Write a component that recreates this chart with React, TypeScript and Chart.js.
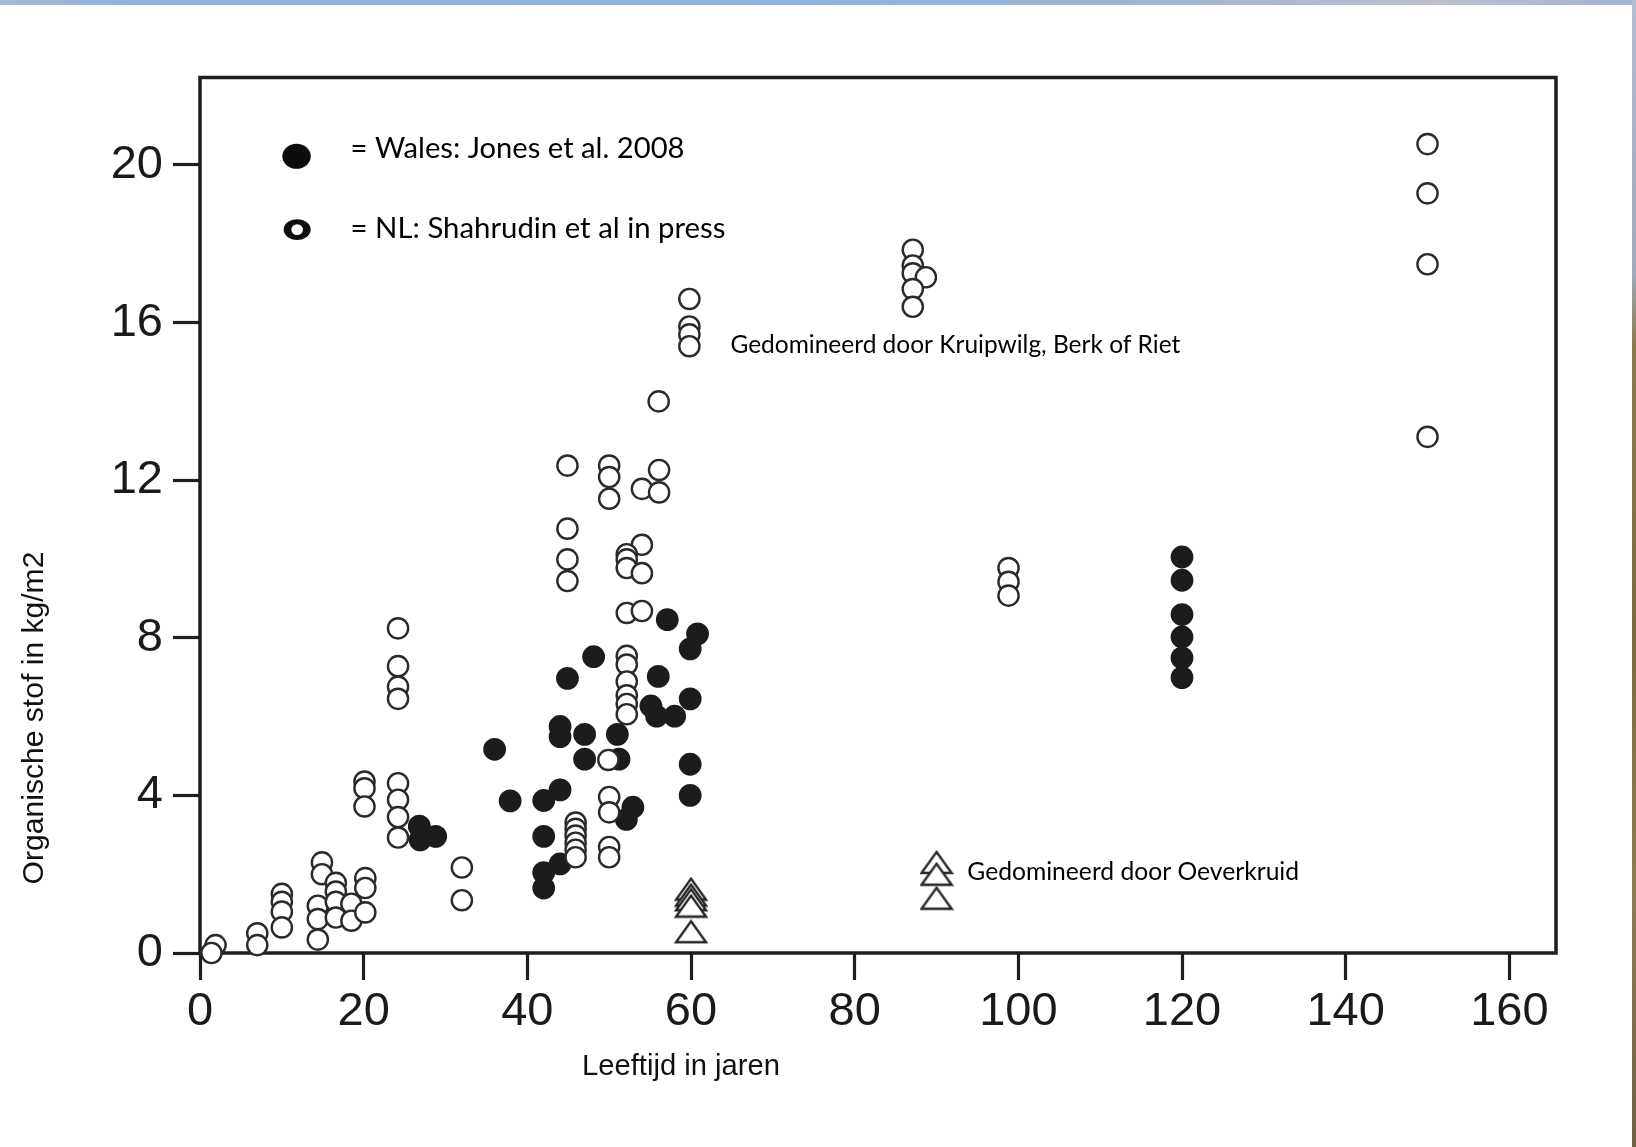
import React, { useEffect, useRef } from 'react';
import { Chart, registerables } from 'chart.js';

Chart.register(...registerables);

// ---------- data ----------
// NL: Shahrudin et al in press (open circles)
const nlAge = [
  1.9, 1.4,
  7.0, 7.0,
  10.0, 10.0, 10.0, 10.0,
  14.9, 14.9,
  14.4, 14.4, 14.4,
  16.6, 16.6, 16.6, 16.6,
  18.5, 18.5,
  20.2, 20.2, 20.2,
  20.1, 20.1, 20.1,
  24.2, 24.2, 24.2, 24.2,
  24.2, 24.2, 24.2, 24.2,
  32.0, 32.0,
  44.9, 44.9, 44.9, 44.9,
  45.9, 45.9, 45.9, 45.9, 45.9, 45.9,
  50.0, 50.0, 50.0,
  50.0, 50.0, 50.0, 50.0,
  49.9,
  54.0, 56.1, 56.1,
  54.0, 52.15, 52.15, 52.15, 54.0,
  52.15, 54.0,
  52.15, 52.15, 52.15, 52.15, 52.15, 52.15,
  59.8, 59.8, 59.8, 59.8,
  56.05,
  87.1, 87.1, 87.1, 88.7, 87.1, 87.1,
  98.8, 98.8, 98.8,
  150, 150, 150, 150,
];
const nlOM = [
  0.2, 0.0,
  0.5, 0.2,
  1.5, 1.3, 1.05, 0.65,
  2.3, 2.0,
  1.2, 0.86, 0.34,
  1.78, 1.56, 1.3, 0.9,
  1.25, 0.82,
  1.9, 1.65, 1.03,
  4.35, 4.18, 3.72,
  8.24, 7.28, 6.76, 6.45,
  4.31, 3.89, 3.45, 2.93,
  2.17, 1.34,
  12.37, 10.77, 9.99, 9.44,
  3.31, 3.15, 2.98, 2.8, 2.62, 2.43,
  12.37, 12.08, 11.53,
  3.96, 3.57, 2.69, 2.43,
  4.9,
  11.78, 12.26, 11.69,
  10.36, 10.12, 9.99, 9.77, 9.64,
  8.63, 8.68,
  7.54, 7.32, 6.89, 6.54, 6.32, 6.06,
  16.6, 15.9, 15.7, 15.4,
  14.0,
  17.85, 17.45, 17.25, 17.15, 16.85, 16.4,
  9.77, 9.42, 9.07,
  20.53, 19.28, 17.48, 13.1,
];

// Wales: Jones et al. 2008 (filled circles)
const walesAge = [
  26.8, 26.9, 28.8,
  36.0, 37.9,
  42.0, 44.0, 42.0, 42.0, 44.0, 42.0,
  44.0, 44.0, 44.9,
  47.0, 47.0, 48.1,
  51.0, 51.2, 52.9, 52.1,
  56.0, 55.1, 55.8, 58.0, 57.1,
  59.9, 60.8, 59.9, 59.9, 59.9,
  120, 120, 120, 120, 120, 120,
];
const walesOM = [
  3.22, 2.87, 2.96,
  5.17, 3.86,
  3.87, 4.14, 2.96, 2.04, 2.26, 1.65,
  5.75, 5.49, 6.97,
  5.55, 4.92, 7.52,
  5.55, 4.92, 3.7, 3.39,
  7.02, 6.27, 6.01, 6.01, 8.46,
  7.72, 8.1, 6.45, 4.79, 4.0,
  10.05, 9.46, 8.59, 8.02, 7.49, 6.99,
];

// Dominated by Oeverkruid (open triangles)
const oeverAge = [60, 60, 60, 60, 60, 90, 90, 90];
const oeverOM = [1.62, 1.47, 1.35, 1.19, 0.54, 2.3, 2.0, 1.39];

const xTickValues = [0, 20, 40, 60, 80, 100, 120, 140, 160];
const yTickValues = [0, 4, 8, 12, 16, 20];

const xAxisTitle = 'Leeftijd in jaren';
const yAxisTitle = 'Organische stof in kg/m2';
const legendWales = '= Wales: Jones et al. 2008';
const legendNL = '= NL: Shahrudin et al in press';
const noteKruipwilg = 'Gedomineerd door Kruipwilg, Berk of Riet';
const noteOever = 'Gedomineerd door Oeverkruid';

// ---------- layout ----------
const W = 1636;
const H = 1147;
const ARIAL = "'Liberation Sans', Arial, Helvetica, sans-serif";
const CALIBRI = "Lato, 'Open Sans', 'Noto Sans', sans-serif";

const toPts = (xs: number[], ys: number[]) => xs.map((x, i) => ({ x, y: ys[i] }));

function makeTriangle(): HTMLCanvasElement {
  const c = document.createElement('canvas');
  c.width = 34;
  c.height = 25;
  const g = c.getContext('2d') as CanvasRenderingContext2D;
  g.lineWidth = 2.3;
  g.strokeStyle = '#262626';
  g.fillStyle = '#ffffff';
  g.beginPath();
  g.moveTo(17, 2);
  g.lineTo(32, 23);
  g.lineTo(2, 23);
  g.closePath();
  g.fill();
  g.stroke();
  return c;
}

function drawFitted(
  ctx: CanvasRenderingContext2D,
  text: string,
  family: string,
  targetW: number,
  x: number,
  y: number,
  align: CanvasTextAlign,
  color: string,
  rotate = 0,
) {
  ctx.save();
  ctx.font = `100px ${family}`;
  const w = ctx.measureText(text).width;
  const size = (100 * targetW) / w;
  ctx.font = `${size}px ${family}`;
  ctx.textAlign = align;
  ctx.textBaseline = 'alphabetic';
  ctx.fillStyle = color;
  ctx.translate(x, y);
  if (rotate) ctx.rotate(rotate);
  ctx.fillText(text, 0, 0);
  ctx.restore();
}

const overlayPlugin = {
  id: 'overlay',
  beforeDatasetsDraw(chart: any) {
    const { ctx, chartArea: a } = chart;
    ctx.save();
    ctx.strokeStyle = '#1e1e1e';
    ctx.lineWidth = 3.5;
    ctx.strokeRect(a.left, a.top, a.right - a.left, a.bottom - a.top);
    ctx.restore();
  },
  afterDatasetsDraw(chart: any) {
    const { ctx } = chart;
    const xs = chart.scales.x;
    const ys = chart.scales.y;

    // axis titles
    drawFitted(ctx, yAxisTitle, ARIAL, 333, 43, 718, 'center', '#111111', -Math.PI / 2);
    drawFitted(ctx, xAxisTitle, ARIAL, 198, 681, 1075, 'center', '#111111');

    // legend markers (positioned in data units)
    const mx = xs.getPixelForValue(11.8);
    const m1y = ys.getPixelForValue(20.22);
    const m2y = ys.getPixelForValue(18.36);
    ctx.save();
    ctx.fillStyle = '#0d0d0d';
    ctx.beginPath();
    ctx.ellipse(mx, m1y, 14.2, 12.5, 0, 0, Math.PI * 2);
    ctx.fill();
    ctx.beginPath();
    ctx.ellipse(mx + 0.6, m2y, 13.5, 10.4, 0, 0, Math.PI * 2);
    ctx.fill();
    ctx.fillStyle = '#ffffff';
    ctx.beginPath();
    ctx.ellipse(mx + 0.6, m2y, 5.8, 5.4, 0, 0, Math.PI * 2);
    ctx.fill();
    ctx.restore();

    // legend texts and notes
    drawFitted(ctx, legendWales, CALIBRI, 334, 350.6, 158, 'left', '#000000');
    drawFitted(ctx, legendNL, CALIBRI, 375, 350.6, 238.3, 'left', '#000000');
    drawFitted(ctx, noteKruipwilg, CALIBRI, 450, 730.4, 352.5, 'left', '#000000');
    drawFitted(ctx, noteOever, CALIBRI, 332, 967.3, 880, 'left', '#000000');
  },
};

export default function App() {
  const ref = useRef<HTMLCanvasElement | null>(null);

  useEffect(() => {
    const canvas = ref.current;
    if (!canvas) return;
    const tri = makeTriangle();

    const tickFont = { family: ARIAL, size: 47 };
    const gridOpts = {
      display: true,
      drawOnChartArea: false,
      drawTicks: true,
      tickLength: 27,
      tickWidth: 3.2,
      tickColor: '#1e1e1e',
    };

    const chart = new Chart(canvas, {
      type: 'scatter',
      data: {
        datasets: [
          {
            label: 'NL: Shahrudin et al in press',
            data: toPts(nlAge, nlOM),
            pointStyle: 'circle',
            pointRadius: 10.1,
            pointHoverRadius: 10.1,
            pointBackgroundColor: '#ffffff',
            pointBorderColor: '#2a2a2a',
            pointBorderWidth: 2.4,
            clip: false,
          } as any,
          {
            label: 'Wales: Jones et al. 2008',
            data: toPts(walesAge, walesOM),
            pointStyle: 'circle',
            pointRadius: 10.3,
            pointHoverRadius: 10.3,
            pointBackgroundColor: '#1c1c1c',
            pointBorderColor: '#1c1c1c',
            pointBorderWidth: 2.2,
            clip: false,
          } as any,
          {
            label: 'Gedomineerd door Oeverkruid',
            data: toPts(oeverAge, oeverOM),
            pointStyle: tri,
            pointRadius: 12,
            pointHoverRadius: 12,
            clip: false,
          } as any,
        ],
      },
      options: {
        responsive: false,
        animation: false,
        devicePixelRatio: 1,
        events: [],
        layout: { padding: { top: 77.5, right: 80, left: 0, bottom: 0 } },
        plugins: {
          legend: { display: false },
          tooltip: { enabled: false },
          title: { display: false },
        },
        scales: {
          x: {
            type: 'linear',
            min: 0,
            max: 165.7,
            afterFit: (s: any) => {
              s.height = H - 953;
            },
            afterBuildTicks: (s: any) => {
              s.ticks = xTickValues.map((v) => ({ value: v }));
            },
            ticks: {
              font: tickFont,
              color: '#1a1a1a',
              padding: 4,
              maxRotation: 0,
              autoSkip: false,
              includeBounds: false,
            },
            grid: gridOpts,
            border: { display: false },
          },
          y: {
            type: 'linear',
            min: 0,
            max: 22.22,
            afterFit: (s: any) => {
              s.width = 200;
            },
            afterBuildTicks: (s: any) => {
              s.ticks = yTickValues.map((v) => ({ value: v }));
            },
            ticks: {
              font: tickFont,
              color: '#1a1a1a',
              padding: 10,
              autoSkip: false,
              includeBounds: false,
            },
            grid: gridOpts,
            border: { display: false },
          },
        },
      } as any,
      plugins: [overlayPlugin],
    });

    return () => {
      chart.destroy();
    };
  }, []);

  return (
    <div
      style={{
        position: 'fixed',
        left: 0,
        top: 0,
        width: W,
        height: H,
        background: '#ffffff',
        overflow: 'hidden',
      }}
    >
      <canvas ref={ref} width={W} height={H} style={{ width: W, height: H, display: 'block' }} />
      <div
        style={{
          position: 'absolute',
          left: 0,
          top: 0,
          width: W,
          height: 5,
          background:
            'linear-gradient(to right, #a8b8d4 0%, #8fb3e2 8%, #8db4e4 50%, #a4b5cf 72%, #bcbfcc 88%, #a3b3d2 100%)',
        }}
      />
      <div
        style={{
          position: 'absolute',
          left: 1632,
          top: 0,
          width: 4,
          height: H,
          background:
            'linear-gradient(to bottom, #b3bdd0 0%, #a0a9b6 24%, #8a7b50 30%, #7b6a40 55%, #8d7d55 78%, #6d6144 100%)',
        }}
      />
    </div>
  );
}
